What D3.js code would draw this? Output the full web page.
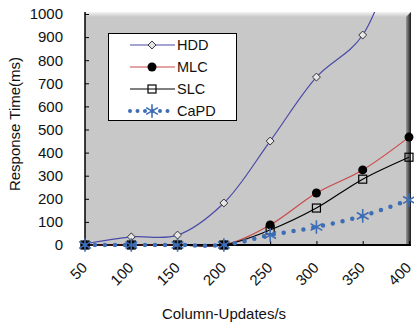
<!DOCTYPE html>
<html>
<head>
<meta charset="utf-8">
<script src="https://cdn.jsdelivr.net/npm/d3@7"></script>
<style>
  body { margin: 0; background: #fff; }
  text { font-family: "Liberation Sans", Arial, sans-serif; fill: #111; }
</style>
</head>
<body>
<script>
"use strict";

// Data

let categories = [50, 100, 150, 200, 250, 300, 350, 400];
let hdd  = [5, 35, 43, 182, 450, 727, 909, 1450];
let mlc  = [0, 0, 0, 0, 87, 225, 325, 467];
let slc  = [0, 0, 0, 0, 65, 160, 285, 380];
let capd = [0, 0, 0, 0, 43, 78, 126, 195];
let yTicks = [0, 100, 200, 300, 400, 500, 600, 700, 800, 900, 1000];

let seriesNames = ["HDD", "MLC", "SLC", "CaPD"];
let seriesValues = [hdd, mlc, slc, capd];

// Layout

let svgWidth = 414, svgHeight = 327;
let plotLeft = 85, plotRight = 409, plotTop = 14, plotBottom = 245;

let svg = d3.select("body").append("svg")
    .attr("width", svgWidth)
    .attr("height", svgHeight);

let xScale = d3.scalePoint()
    .domain(categories)
    .range([plotLeft, plotRight]);

let yScale = d3.scaleLinear()
    .domain([0, 1000])
    .range([plotBottom, plotTop]);

let defs = svg.append("defs");

defs.append("clipPath").attr("id", "plotClip")
  .append("rect")
    .attr("x", plotLeft - 8).attr("y", plotTop - 2)
    .attr("width", plotRight - plotLeft + 16).attr("height", plotBottom - plotTop + 10);

let topGrad = defs.append("linearGradient").attr("id", "topGrad")
    .attr("x1", 0).attr("y1", 0).attr("x2", 0).attr("y2", 1);
topGrad.append("stop").attr("offset", 0).attr("stop-color", "#f4f4f4");
topGrad.append("stop").attr("offset", 1).attr("stop-color", "#c8c8c8");

let rightGrad = defs.append("linearGradient").attr("id", "rightGrad")
    .attr("x1", 0).attr("y1", 0).attr("x2", 1).attr("y2", 0);
rightGrad.append("stop").attr("offset", 0).attr("stop-color", "#9a9a9a");
rightGrad.append("stop").attr("offset", 1).attr("stop-color", "#1a1a1a");

// Plot background with bevel

svg.append("rect")
    .attr("x", plotLeft).attr("y", plotTop - 2)
    .attr("width", plotRight - plotLeft + 2).attr("height", plotBottom - plotTop + 2)
    .attr("fill", "#c8c8c8");

svg.append("polygon")
    .attr("points", [[plotLeft, plotTop - 2], [plotRight + 2, plotTop - 2], [plotRight - 3, plotTop + 3], [plotLeft, plotTop + 3]].join(" "))
    .attr("fill", "url(#topGrad)");

svg.append("polygon")
    .attr("points", [[plotRight - 3, plotTop + 3], [plotRight + 2, plotTop - 2], [plotRight + 2, plotBottom], [plotRight - 3, plotBottom]].join(" "))
    .attr("fill", "url(#rightGrad)");

// Axes

let yAxis = d3.axisLeft(yScale)
    .tickValues(yTicks)
    .tickFormat(d3.format("d"))
    .tickSizeInner(-4)
    .tickSizeOuter(0)
    .tickPadding(22);

let gy = svg.append("g")
    .attr("transform", `translate(${plotLeft}, 0)`)
    .call(yAxis);

gy.select(".domain").remove();
gy.selectAll(".tick line").attr("stroke", "#000");
gy.selectAll(".tick text")
    .style("font-size", "15px")
    .style("font-family", "'Liberation Sans', Arial, sans-serif")
    .attr("fill", "#111");

let xAxis = d3.axisBottom(xScale)
    .tickSizeInner(-4)
    .tickSizeOuter(0)
    .tickPadding(0);

let gx = svg.append("g")
    .attr("transform", `translate(0, ${plotBottom})`)
    .call(xAxis);

gx.select(".domain").remove();
gx.selectAll(".tick line").attr("stroke", "#000");
gx.selectAll(".tick text")
    .style("font-size", "15px")
    .style("font-family", "'Liberation Sans', Arial, sans-serif")
    .attr("fill", "#111")
    .attr("text-anchor", "end")
    .attr("dy", "0.35em")
    .attr("y", 0)
    .attr("transform", "translate(-1, 20) rotate(-45)");

svg.append("line")
    .attr("x1", plotLeft).attr("x2", plotLeft)
    .attr("y1", plotTop - 2).attr("y2", plotBottom)
    .attr("stroke", "#000").attr("stroke-width", 1.5);

svg.append("line")
    .attr("x1", plotLeft).attr("x2", plotRight + 2)
    .attr("y1", plotBottom).attr("y2", plotBottom)
    .attr("stroke", "#000").attr("stroke-width", 2);

svg.append("text")
    .attr("x", 224).attr("y", 319)
    .attr("text-anchor", "middle")
    .style("font-size", "15px")
    .text("Column-Updates/s");

svg.append("text")
    .attr("transform", "translate(20, 124) rotate(-90)")
    .attr("text-anchor", "middle")
    .style("font-size", "15px")
    .text("Response Time(ms)");

// Series

let styles = {
    HDD:  {color: "#4a4aa8", width: 1.2, dash: null, marker: "diamond"},
    MLC:  {color: "#c84a4a", width: 1.2, dash: null, marker: "circle"},
    SLC:  {color: "#000000", width: 1.2, dash: null, marker: "square"},
    CaPD: {color: "#3d6db5", width: 4.5, dash: "0,10", marker: "star"}
};

function drawMarker(g, type, x, y, color) {
    if (type === "diamond") {
        g.append("path")
            .attr("d", d3.symbol(d3.symbolDiamond2, 40)())
            .attr("transform", `translate(${x},${y})`)
            .attr("fill", "#e6e6e6").attr("stroke", "#333").attr("stroke-width", 1);
    } else if (type === "circle") {
        g.append("circle")
            .attr("cx", x).attr("cy", y).attr("r", 4.5)
            .attr("fill", "#000");
    } else if (type === "square") {
        g.append("rect")
            .attr("x", x - 4).attr("y", y - 4)
            .attr("width", 8).attr("height", 8)
            .attr("fill", "none").attr("stroke", "#000").attr("stroke-width", 1.2);
    } else if (type === "star") {
        g.append("path")
            .attr("d", d3.symbol(d3.symbolAsterisk, 130)())
            .attr("transform", `translate(${x},${y})`)
            .attr("fill", "none").attr("stroke", color).attr("stroke-width", 1.6);
    }
}

let line = d3.line()
    .x((d, i) => xScale(categories[i]))
    .y(d => yScale(d))
    .curve(d3.curveCatmullRom);

let plot = svg.append("g").attr("clip-path", "url(#plotClip)");

seriesNames.forEach((name, k) => {
    let s = styles[name];
    let values = seriesValues[k];
    let path = plot.append("path")
        .attr("d", line(values))
        .attr("fill", "none")
        .attr("stroke", s.color)
        .attr("stroke-width", s.width);
    if (s.dash) {
        path.attr("stroke-dasharray", s.dash).attr("stroke-linecap", "round");
    }
    values.forEach((v, i) => {
        if (v <= 1000) drawMarker(plot, s.marker, xScale(categories[i]), yScale(v), s.color);
    });
});

// Legend

let legend = svg.append("g");

legend.append("rect")
    .attr("x", 108.5).attr("y", 33.5)
    .attr("width", 128).attr("height", 87)
    .attr("fill", "#fff").attr("stroke", "#000").attr("stroke-width", 1);

seriesNames.forEach((name, k) => {
    let s = styles[name];
    let y = 45 + k * 22;
    let l = legend.append("line")
        .attr("x1", 130).attr("x2", 175)
        .attr("y1", y).attr("y2", y)
        .attr("stroke", s.color)
        .attr("stroke-width", s.dash ? 4 : 1.2);
    if (s.dash) l.attr("stroke-dasharray", "0,7.5").attr("stroke-linecap", "round");
    drawMarker(legend, s.marker, 152, y, s.color);
    legend.append("text")
        .attr("x", 177).attr("y", y)
        .attr("dy", "0.35em")
        .style("font-size", "14.5px")
        .text(name);
});
</script>
</body>
</html>
